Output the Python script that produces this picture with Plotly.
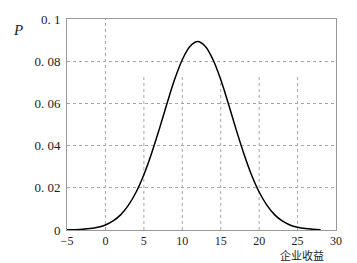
import plotly.graph_objects as go

# Values
x_vals = [-5, -4, -3, -2, -1, 0, 1, 2, 3, 4, 5, 6, 7, 8, 9, 10, 11, 12,
          13, 14, 15, 16, 17, 18, 19, 20, 21, 22, 23, 24, 25, 26, 27, 28]
p_vals = [0.00006, 0.00015, 0.00032, 0.00066, 0.0013, 0.0024, 0.0043, 0.0073,
          0.0118, 0.0180, 0.0262, 0.0363, 0.0477, 0.0598, 0.0713, 0.0807, 0.0870,
          0.0893, 0.0870, 0.0807, 0.0713, 0.0598, 0.0477, 0.0363, 0.0262, 0.0180,
          0.0118, 0.0073, 0.0043, 0.0024, 0.0013, 0.00066, 0.00032, 0.00015]

x_ticks = [-5, 0, 5, 10, 15, 20, 25, 30]
x_ticktext = ["\u22125", "0", "5", "10", "15", "20", "25", "30"]
y_ticks = [0, 0.02, 0.04, 0.06, 0.08, 0.1]
y_ticktext = ["0", "0. 02", "0. 04", "0. 06", "0. 08", "0. 1"]
partial_grid_x = [5, 10, 15, 20, 25]

GRID = "#a6a6a6"
DASH = "3px,3px"

fig = go.Figure()
fig.add_trace(go.Scatter(x=x_vals, y=p_vals, mode="lines",
                         line=dict(color="black", width=1.5, shape="spline"),
                         showlegend=False, hoverinfo="skip"))

grid_style = dict(color=GRID, width=1, dash=DASH)
fig.add_shape(type="line", x0=0, x1=0, y0=0, y1=0.1, xref="x", yref="y",
              line=grid_style, layer="below")
for gx in partial_grid_x:
    fig.add_shape(type="line", x0=gx, x1=gx, y0=0, y1=0.073, xref="x", yref="y",
                  line=grid_style, layer="below")

xfont = dict(family="Liberation Serif, DejaVu Serif, serif", size=12, color="#222222")
yfont = dict(family="Liberation Serif, DejaVu Serif, serif", size=13, color="#222222")

fig.update_layout(
    width=357, height=263,
    margin=dict(l=67, r=21, t=19, b=33),
    paper_bgcolor="white", plot_bgcolor="white",
    xaxis=dict(range=[-5, 30], tickvals=x_ticks, ticktext=x_ticktext,
               showgrid=False, zeroline=False, showline=True, mirror=True,
               linecolor="#999999", linewidth=1, ticks="", tickfont=xfont,
               ticklabelstandoff=0),
    yaxis=dict(range=[0, 0.1], tickvals=y_ticks, ticktext=y_ticktext,
               showgrid=True, gridcolor=GRID, griddash=DASH, gridwidth=1,
               zeroline=False, showline=True, mirror=True,
               linecolor="#999999", linewidth=1, ticks="", tickfont=yfont,
               ticklabelstandoff=3),
    annotations=[
        dict(text="<i>P</i>", xref="paper", yref="paper", x=-0.182, y=0.948,
             showarrow=False, xanchor="center", yanchor="middle",
             font=dict(family="Liberation Serif, serif", size=15, color="#222222")),
        dict(text="企业收益", xref="paper", yref="paper", x=0.873, y=-0.16,
             showarrow=False, xanchor="center", yanchor="bottom", borderpad=0,
             font=dict(family="Noto Sans CJK SC, sans-serif", size=11, color="#222222")),
    ],
)
fig.write_html("out.html")
